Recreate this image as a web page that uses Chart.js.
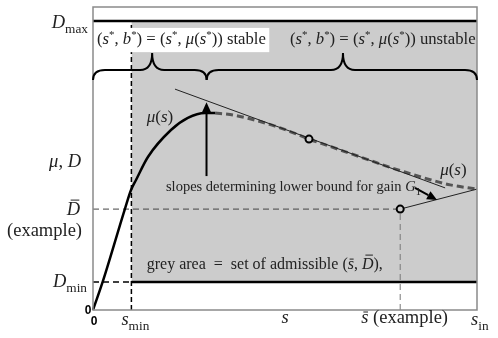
<!DOCTYPE html>
<html>
<head>
<meta charset="utf-8">
<script src="https://cdn.jsdelivr.net/npm/chart.js@4"></script>
<style>
  body { margin: 0; background: #fff; }
  #wrap { width: 498px; height: 338px; position: relative; }
</style>
</head>
<body>
<div id="wrap"><canvas id="chart"></canvas></div>
<script>
// s axis runs 0..sIn, D axis 0..1 (frame top)
const sMin = 0.1;
const sBar = 0.8;
const sIn = 1.0;
const dMin = 0.092;
const dMax = 0.954;
const dBar = 0.333;

// mu(s), solid (stable) part
const muSolidS = [0.0, 0.026, 0.083, 0.099, 0.112, 0.143, 0.203, 0.247, 0.292, 0.318];
const muSolidY = [0.0, 0.096, 0.333, 0.396, 0.429, 0.505, 0.594, 0.634, 0.650, 0.650];
// mu(s), dashed (unstable) part
const muDashS = [0.318, 0.357, 0.396, 0.435, 0.474, 0.513, 0.5625, 0.617, 0.669, 0.721, 0.773, 0.826, 0.878, 0.930, 1.0];
const muDashY = [0.650, 0.645, 0.635, 0.622, 0.607, 0.589, 0.564, 0.540, 0.517, 0.494, 0.471, 0.450, 0.430, 0.413, 0.399];

// slope lines
const slope1S = [0.2135, 0.917];
const slope1Y = [0.729, 0.403];
const slope2S = [0.8, 1.0];
const slope2Y = [0.333, 0.399];

// marked points
const markS = [0.5625, 0.8];
const markY = [0.564, 0.333];

// braces: [start, tip, end] in s
const braceStable = [0.0, 0.154, 0.296];
const braceUnstable = [0.296, 0.651, 1.0];

const SERIF = '"Liberation Serif", "Times New Roman", serif';

function pts(xs, ys) {
    return xs.map((x, i) => ({ x: x, y: ys[i] }));
}

function lineSet(data, color, width, dash, order) {
    return {
        type: 'line',
        data: data,
        borderColor: color,
        borderWidth: width,
        borderDash: dash || [],
        pointRadius: 0,
        fill: false,
        tension: 0,
        clip: false,
        order: order
    };
}

function drawRich(ctx, x, y, runs, align, fs) {
    const pieces = runs.map(r => {
        let size = fs;
        let dy = 0;
        if (r.s === 'sub') { size = fs * 0.72; dy = fs * 0.27; }
        if (r.s === 'sup') { size = fs * 0.65; dy = -fs * 0.38; }
        const font = (r.i ? 'italic ' : '') + size.toFixed(1) + 'px ' + SERIF;
        ctx.font = font;
        return { t: r.t, font: font, dy: dy, w: ctx.measureText(r.t).width, bar: r.bar };
    });
    const total = pieces.reduce((s, p) => s + p.w, 0);
    let cx = x;
    if (align === 'right') cx = x - total;
    else if (align === 'center') cx = x - total / 2;
    ctx.fillStyle = '#222';
    ctx.textBaseline = 'alphabetic';
    ctx.textAlign = 'left';
    pieces.forEach(p => {
        ctx.font = p.font;
        ctx.fillText(p.t, cx, y + p.dy);
        if (p.bar) {
            ctx.strokeStyle = '#222';
            ctx.lineWidth = 1;
            ctx.beginPath();
            ctx.moveTo(cx + p.w * 0.3, y - p.bar);
            ctx.lineTo(cx + p.w * 0.95, y - p.bar);
            ctx.stroke();
        }
        cx += p.w;
    });
}

function drawBrace(ctx, x1, xt, x2, yEnd, yMid, yTip) {
    const r = 12;
    ctx.beginPath();
    ctx.moveTo(x1, yEnd);
    ctx.quadraticCurveTo(x1, yMid, x1 + r, yMid);
    ctx.lineTo(xt - r, yMid);
    ctx.quadraticCurveTo(xt, yMid, xt, yTip);
    ctx.quadraticCurveTo(xt, yMid, xt + r, yMid);
    ctx.lineTo(x2 - r, yMid);
    ctx.quadraticCurveTo(x2, yMid, x2, yEnd);
    ctx.stroke();
}

function drawArrow(ctx, x1, y1, x2, y2) {
    const a = Math.atan2(y2 - y1, x2 - x1);
    const len = 10, hw = 4.5;
    const bx = x2 - len * Math.cos(a), by = y2 - len * Math.sin(a);
    ctx.beginPath();
    ctx.moveTo(x1, y1);
    ctx.lineTo(bx, by);
    ctx.stroke();
    ctx.beginPath();
    ctx.moveTo(x2, y2);
    ctx.lineTo(bx + hw * Math.sin(a), by - hw * Math.cos(a));
    ctx.lineTo(bx - hw * Math.sin(a), by + hw * Math.cos(a));
    ctx.closePath();
    ctx.fill();
}

const decorPlugin = {
    id: 'decor',
    afterDatasetsDraw(chart) {
        const ctx = chart.ctx;
        const xs = chart.scales.x, ys = chart.scales.y;
        const px = v => xs.getPixelForValue(v);
        const py = v => ys.getPixelForValue(v);
        const area = chart.chartArea;
        ctx.save();

        // frame
        ctx.strokeStyle = '#8a8a8a';
        ctx.lineWidth = 1.5;
        ctx.strokeRect(area.left, area.top, area.right - area.left, area.bottom - area.top);

        // white label box for the stable branch
        ctx.fillStyle = '#fff';
        ctx.fillRect(px(0) + 1, py(0.931), px(0.459) - px(0) - 1, py(0.851) - py(0.931));

        // braces
        ctx.strokeStyle = '#000';
        ctx.lineWidth = 2;
        [braceStable, braceUnstable].forEach(b => {
            drawBrace(ctx, px(b[0]), px(b[1]), px(b[2]), py(0.759), py(0.792), py(0.848));
        });

        // arrows
        ctx.fillStyle = '#000';
        drawArrow(ctx, px(0.2956), py(0.442), px(0.2956), py(0.686));
        drawArrow(ctx, px(0.8385), py(0.403), px(0.896), py(0.363));

        // labels
        const L = px(0), B = py(0);
        const big = 18.5;
        const starRuns = [
            { t: '(' }, { t: 's', i: 1 }, { t: '*', s: 'sup' }, { t: ', ' }, { t: 'b', i: 1 }, { t: '*', s: 'sup' },
            { t: ') = (' }, { t: 's', i: 1 }, { t: '*', s: 'sup' }, { t: ', ' }, { t: 'μ', i: 1 }, { t: '(' },
            { t: 's', i: 1 }, { t: '*', s: 'sup' }
        ];
        drawRich(ctx, px(0.0104), py(0.878), starRuns.concat([{ t: ')) stable' }]), 'left', 16.7);
        drawRich(ctx, px(0.513), py(0.878), starRuns.concat([{ t: ')) unstable' }]), 'left', 16.7);

        drawRich(ctx, L - 5, py(dMax) + 7, [{ t: 'D', i: 1 }, { t: 'max', s: 'sub' }], 'right', big);
        drawRich(ctx, L - 12, py(0.472), [{ t: 'μ', i: 1 }, { t: ', ' }, { t: 'D', i: 1 }], 'right', big);
        drawRich(ctx, L - 13, py(dBar) + 6, [{ t: 'D', i: 1, bar: 15 }], 'right', big);
        drawRich(ctx, L - 11, py(dBar) + 27, [{ t: '(example)' }], 'right', big);
        drawRich(ctx, L - 6, py(dMin) + 5, [{ t: 'D', i: 1 }, { t: 'min', s: 'sub' }], 'right', big);

        drawRich(ctx, px(sMin) - 10, B + 15, [{ t: 's', i: 1 }, { t: 'min', s: 'sub' }], 'left', big);
        drawRich(ctx, px(0.5), B + 13, [{ t: 's', i: 1 }], 'center', big);
        drawRich(ctx, px(sBar) - 39, B + 13, [{ t: 's', i: 1, bar: 11 }, { t: ' (example)' }], 'left', big);
        drawRich(ctx, px(sIn) - 6, B + 15, [{ t: 's', i: 1 }, { t: 'in', s: 'sub' }], 'left', big);

        const muRuns = [{ t: 'μ', i: 1 }, { t: '(' }, { t: 's', i: 1 }, { t: ')' }];
        drawRich(ctx, px(0.14), py(0.62), muRuns, 'left', 17);
        drawRich(ctx, px(0.904), py(0.445), muRuns, 'left', 17);
        drawRich(ctx, px(0.19), py(0.393), [
            { t: 'slopes determining lower bound for gain ' }, { t: 'G', i: 1 }, { t: '1', s: 'sub' }
        ], 'left', 14.5);
        drawRich(ctx, px(0.14), py(0.135), [
            { t: 'grey area  =  set of admissible (' }, { t: 's', i: 1, bar: 10 }, { t: ', ' },
            { t: 'D', i: 1, bar: 14 }, { t: '),' }
        ], 'left', 16);

        ctx.font = 'bold 12px "Liberation Sans", Arial, sans-serif';
        ctx.fillStyle = '#000';
        ctx.textAlign = 'center';
        ctx.fillText('0', L - 5, B + 4);
        ctx.fillText('0', L + 1, B + 15);
        ctx.restore();
    }
};

const chart = new Chart(document.getElementById('chart'), {
    type: 'scatter',
    data: {
        datasets: [
            {
                type: 'line',
                data: [{ x: sMin, y: dMax }, { x: sIn, y: dMax }],
                backgroundColor: '#cccccc',
                borderWidth: 0,
                pointRadius: 0,
                fill: { value: dMin },
                order: 20
            },
            lineSet([{ x: sMin, y: dMin }, { x: sIn, y: dMin }], '#000', 2.5, null, 8),
            lineSet([{ x: 0, y: dMax }, { x: sIn, y: dMax }], '#000', 2.5, null, 8),
            lineSet([{ x: 0, y: dMin }, { x: sMin, y: dMin }], '#000', 1.5, [6, 4], 9),
            lineSet([{ x: sMin, y: 0 }, { x: sMin, y: dMax - 0.008 }], '#000', 1.5, [5, 3], 9),
            lineSet([{ x: 0, y: dBar }, { x: sBar, y: dBar }], '#444', 1, [6, 4], 9),
            lineSet([{ x: sBar, y: 0 }, { x: sBar, y: dBar }], '#777', 1, [6, 4], 9),
            Object.assign(lineSet(pts(muSolidS, muSolidY), '#000', 2.5, null, 5), { cubicInterpolationMode: 'monotone' }),
            Object.assign(lineSet(pts(muDashS, muDashY), '#555', 3, [7, 4], 5), { cubicInterpolationMode: 'monotone' }),
            lineSet(pts(slope1S, slope1Y), '#222', 1, null, 4),
            lineSet(pts(slope2S, slope2Y), '#222', 1, null, 4),
            {
                type: 'scatter',
                data: pts(markS, markY),
                pointRadius: 3.5,
                pointBorderWidth: 2,
                pointBorderColor: '#000',
                pointBackgroundColor: '#cccccc',
                clip: false,
                order: 1
            }
        ]
    },
    options: {
        responsive: true,
        maintainAspectRatio: false,
        animation: false,
        layout: { padding: { left: 93, right: 21, top: 7, bottom: 28 } },
        scales: {
            x: { type: 'linear', min: 0, max: 1, display: false },
            y: { type: 'linear', min: 0, max: 1, display: false }
        },
        plugins: { legend: { display: false }, tooltip: { enabled: false } }
    },
    plugins: [decorPlugin]
});
</script>
</body>
</html>
